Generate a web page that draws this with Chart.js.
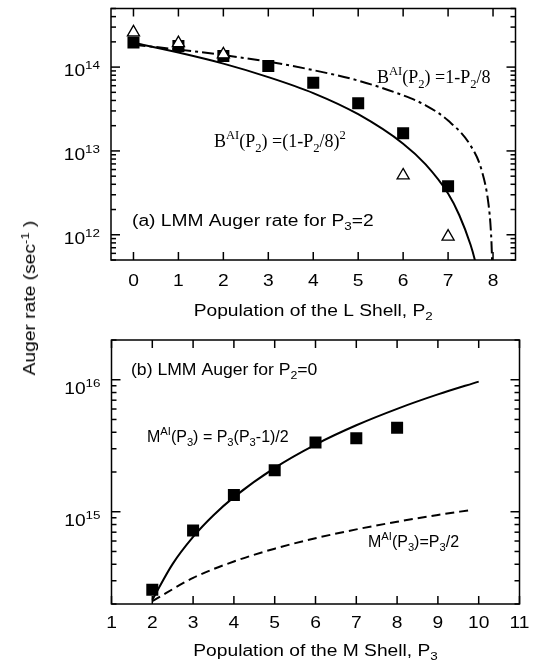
<!DOCTYPE html>
<html>
<head>
<meta charset="utf-8">
<script src="https://cdn.jsdelivr.net/npm/chart.js@4.4.1/dist/chart.umd.min.js"></script>
<style>
  html, body { margin: 0; padding: 0; background: #fff; }
  #page { position: relative; width: 537px; height: 666px; overflow: hidden; }
  .panel { position: absolute; left: 0; width: 537px; }
  #panelA { top: 0; height: 330px; }
  #panelB { top: 330px; height: 336px; }
  #ytitle {
    position: absolute; left: 30px; top: 298px;
    transform: translate(-50%, -50%) rotate(-90deg) scaleX(1.2);
    font: 16px 'Liberation Sans', Arial, sans-serif;
    white-space: nowrap; line-height: 1; color: #000;
  }
  #ytitle sup { font-size: 11px; vertical-align: 6px; line-height: 0; }
</style>
</head>
<body>
<div id="page">
  <div class="panel" id="panelA"><canvas id="chartA" width="537" height="330"></canvas></div>
  <div class="panel" id="panelB"><canvas id="chartB" width="537" height="336"></canvas></div>
  <div id="ytitle">Auger rate (sec<sup>-1</sup> )</div>
</div>
<script>
// (a) LMM Auger rate vs L-shell population P2, with P3 = 2
const p2Ticks = [0, 1, 2, 3, 4, 5, 6, 7, 8];
const rateTicksA = [1e12, 1e13, 1e14];
const p2Squares = [0, 1, 2, 3, 4, 5, 6, 7];
const rateSquaresA = [1.96e14, 1.78e14, 1.36e14, 1.03e14, 6.5e13, 3.7e13, 1.63e13, 3.8e12];
const p2Triangles = [0, 1, 2, 6, 7];
const rateTriangles = [2.6e14, 1.93e14, 1.42e14, 5.1e12, 9.5e11];
// B(P2) = (1-P2/8)^2 curve
const p2Quad = [0, 1, 2, 3, 4, 5, 6, 6.5, 7, 7.25, 7.5, 7.6, 7.7];
const rateQuad = [1.95e14, 1.49e14, 1.10e14, 7.6e13, 4.9e13, 2.74e13, 1.22e13, 6.9e12, 3.1e12, 1.71e12, 7.6e11, 4.9e11, 2.7e11];
// B(P2) = 1-P2/8 curve
const p2Lin = [0, 1, 2, 3, 4, 5, 6, 6.5, 7, 7.5, 7.75, 7.9, 7.95, 7.975, 7.99];
const rateLin = [1.85e14, 1.62e14, 1.39e14, 1.16e14, 9.2e13, 6.9e13, 4.6e13, 3.5e13, 2.3e13, 1.16e13, 5.8e12, 2.3e12, 1.16e12, 5.8e11, 2.3e11];

// (b) LMM Auger rate vs M-shell population P3, with P2 = 0
const p3Ticks = [1, 2, 3, 4, 5, 6, 7, 8, 9, 10, 11];
const rateTicksB = [1e15, 1e16];
const p3Squares = [2, 3, 4, 5, 6, 7, 8];
const rateSquaresB = [2.56e14, 7.2e14, 1.34e15, 2.06e15, 3.35e15, 3.6e15, 4.33e15];
// M(P3) = P3(P3-1)/2 curve
const p3Pair = [2, 2.5, 3, 3.5, 4, 5, 6, 7, 8, 9, 10];
const ratePair = [2.15e14, 4.03e14, 6.45e14, 9.4e14, 1.29e15, 2.15e15, 3.23e15, 4.52e15, 6.02e15, 7.74e15, 9.68e15];
// M(P3) = P3/2 curve
const p3Half = [2, 3, 4, 5, 6, 7, 8, 9, 9.8];
const rateHalf = [2.1e14, 3.15e14, 4.2e14, 5.25e14, 6.3e14, 7.35e14, 8.4e14, 9.45e14, 1.03e15];

const SANS = "'Liberation Sans', Arial, Helvetica, sans-serif";
const SERIF = "'Liberation Serif', 'Times New Roman', serif";

const pts = (xs, ys) => xs.map((x, i) => ({ x, y: ys[i] }));

// draw text made of normal / superscript / subscript runs
function richText(ctx, parts, x, y, o) {
  const size = o.size || 16, family = o.family || SANS, sx = o.stretch || 1;
  const runs = parts.map(([t, k]) => ({ t, k: k || '', s: k ? size * 0.7 : size }));
  ctx.save();
  ctx.translate(x, y);
  ctx.scale(sx, 1);
  ctx.textAlign = 'left';
  ctx.textBaseline = 'alphabetic';
  ctx.fillStyle = '#000';
  let w = 0;
  runs.forEach(r => { ctx.font = r.s + 'px ' + family; r.w = ctx.measureText(r.t).width; w += r.w; });
  let cx = o.align === 'center' ? -w / 2 : o.align === 'right' ? -w : 0;
  runs.forEach(r => {
    ctx.font = r.s + 'px ' + family;
    const dy = r.k === 'sup' ? -size * 0.45 : r.k === 'sub' ? size * 0.28 : 0;
    ctx.fillText(r.t, cx, dy);
    cx += r.w;
  });
  ctx.restore();
}

// boxed frame with inward ticks on all four sides, labels and notes
function framePlugin(spec) {
  return {
    id: 'frame',
    afterDraw(chart) {
      const { ctx, chartArea: a, scales: { x, y } } = chart;
      const seg = (x1, y1, x2, y2) => { ctx.beginPath(); ctx.moveTo(x1, y1); ctx.lineTo(x2, y2); ctx.stroke(); };
      ctx.save();
      ctx.strokeStyle = '#000';
      ctx.lineWidth = 1.5;
      ctx.strokeRect(a.left, a.top, a.right - a.left, a.bottom - a.top);

      spec.xTicks.forEach(v => {
        const px = x.getPixelForValue(v);
        seg(px, a.bottom, px, a.bottom - 8);
        seg(px, a.top, px, a.top + 8);
        richText(ctx, [[String(v)]], px, spec.tickBase, { align: 'center', stretch: 1.2 });
      });

      spec.yTicks.forEach(dec => {
        for (let m = 1; m < 10; m++) {
          const v = m * dec;
          if (v < y.min * 0.999 || v > y.max * 1.001) continue;
          const py = y.getPixelForValue(v);
          const len = m === 1 ? 9 : 5;
          seg(a.left, py, a.left + len, py);
          seg(a.right, py, a.right - len, py);
        }
        // minor ticks below the lowest decade
        for (let m = 2; m < 10; m++) {
          const v = m * dec / 10;
          if (v < y.min * 0.999 || v >= dec / 10 * 10 || rateTickBelow(spec.yTicks, v)) continue;
          const py = y.getPixelForValue(v);
          seg(a.left, py, a.left + 5, py);
          seg(a.right, py, a.right - 5, py);
        }
        const py = y.getPixelForValue(dec);
        richText(ctx, [['10'], [String(Math.round(Math.log10(dec))), 'sup']], a.left - 11, py + spec.yLabelDy,
          { align: 'right', stretch: 1.2 });
      });

      richText(ctx, spec.xTitle, (a.left + a.right) / 2, spec.titleBase, { align: 'center', stretch: 1.2 });
      spec.notes.forEach(n => richText(ctx, n.parts, n.x, n.y, n));
      ctx.restore();
    }
  };
}

// true if v is already covered by the decade list's own minor ticks
function rateTickBelow(decades, v) {
  return decades.some(d => v >= d && v < d * 10);
}

function baseOptions(pad, xr, yr) {
  return {
    responsive: false,
    animation: false,
    devicePixelRatio: 1,
    layout: { padding: pad },
    scales: {
      x: { type: 'linear', display: false, min: xr[0], max: xr[1] },
      y: { type: 'logarithmic', display: false, min: yr[0], max: yr[1] }
    },
    plugins: { legend: { display: false }, tooltip: { enabled: false } }
  };
}

const curve = (data, dash, order) => ({
  data, showLine: true, pointRadius: 0, borderColor: '#000', borderWidth: 2,
  borderDash: dash, cubicInterpolationMode: 'monotone', order
});

new Chart(document.getElementById('chartA'), {
  type: 'scatter',
  data: {
    datasets: [
      { data: pts(p2Triangles, rateTriangles), pointStyle: 'triangle', pointRadius: 7,
        backgroundColor: '#fff', borderColor: '#000', borderWidth: 1.3, order: 0 },
      { data: pts(p2Squares, rateSquaresA), pointStyle: 'rect', pointRadius: 8.5,
        backgroundColor: '#000', borderColor: '#000', borderWidth: 0, order: 1 },
      curve(pts(p2Quad, rateQuad), [], 2),
      curve(pts(p2Lin, rateLin), [12, 4, 3, 4], 3)
    ]
  },
  options: baseOptions({ left: 111, right: 21.5, top: 3.5, bottom: 70 }, [-0.5, 8.5], [5e11, 5e14]),
  plugins: [framePlugin({
    xTicks: p2Ticks, yTicks: rateTicksA, tickBase: 286, yLabelDy: 9, titleBase: 316,
    xTitle: [['Population of the L Shell, P'], ['2', 'sub']],
    notes: [
      { parts: [['(a) LMM Auger rate for P'], ['3', 'sub'], ['=2']], x: 132, y: 226, stretch: 1.2 },
      { parts: [['B'], ['AI', 'sup'], ['(P'], ['2', 'sub'], [') =(1-P'], ['2', 'sub'], ['/8)'], ['2', 'sup']],
        x: 214, y: 147, family: SERIF, size: 18 },
      { parts: [['B'], ['AI', 'sup'], ['(P'], ['2', 'sub'], [') =1-P'], ['2', 'sub'], ['/8']],
        x: 377, y: 83, family: SERIF, size: 18 }
    ]
  })]
});

new Chart(document.getElementById('chartB'), {
  type: 'scatter',
  data: {
    datasets: [
      { data: pts(p3Squares, rateSquaresB), pointStyle: 'rect', pointRadius: 8.5,
        backgroundColor: '#000', borderColor: '#000', borderWidth: 0, order: 0 },
      curve(pts(p3Pair, ratePair), [], 1),
      curve(pts(p3Half, rateHalf), [9, 5], 2)
    ]
  },
  options: baseOptions({ left: 111.5, right: 17.5, top: 10, bottom: 62 }, [1, 11], [2e14, 2e16]),
  plugins: [framePlugin({
    xTicks: p3Ticks, yTicks: rateTicksB, tickBase: 298, yLabelDy: 14, titleBase: 326,
    xTitle: [['Population of the M Shell, P'], ['3', 'sub']],
    notes: [
      { parts: [['(b) LMM Auger for P'], ['2', 'sub'], ['=0']], x: 131, y: 45, stretch: 1.1 },
      { parts: [['M'], ['AI', 'sup'], ['(P'], ['3', 'sub'], [') = P'], ['3', 'sub'], ['(P'], ['3', 'sub'], ['-1)/2']],
        x: 147, y: 112 },
      { parts: [['M'], ['AI', 'sup'], ['(P'], ['3', 'sub'], [')=P'], ['3', 'sub'], ['/2']], x: 368, y: 217 }
    ]
  })]
});
</script>
</body>
</html>
